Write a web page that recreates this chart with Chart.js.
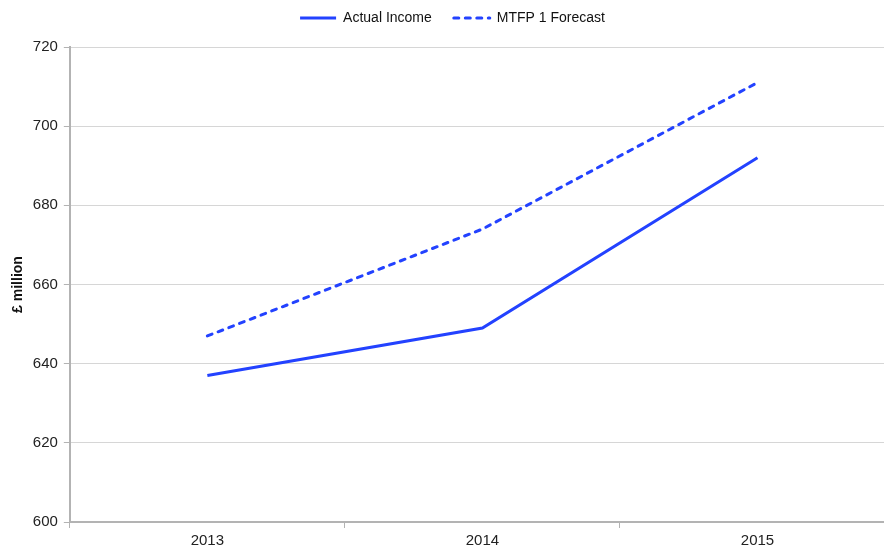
<!DOCTYPE html>
<html>
<head>
<meta charset="utf-8">
<script src="https://cdn.jsdelivr.net/npm/chart.js@4.4.1/dist/chart.umd.min.js"></script>
<style>
  html, body { margin: 0; padding: 0; background: #fff; overflow: hidden; }
  #wrap { width: 897px; height: 555px; position: relative; }
</style>
</head>
<body>
<div id="wrap"><canvas id="incomeChart"></canvas></div>
<script>
// Income figures, £ million
const years = ['2013', '2014', '2015'];
const actualIncome = [637, 649, 692];
const mtfpForecast = [647, 674, 711];
const yTicks = [600, 620, 640, 660, 680, 700, 720];

const lineBlue = '#2342ff';
const axisGrey = '#b3b3b3';
const gridGrey = '#d6d6d6';
const fontFamily = '"Liberation Sans", Arial, sans-serif';

// extra space between the legend and the plot
const legendGap = {
    id: 'legendGap',
    beforeInit(chart) {
        const fit = chart.legend.fit;
        chart.legend.fit = function () {
            fit.call(this);
            this.height += 12;
        };
    }
};

const ctx = document.getElementById('incomeChart').getContext('2d');
new Chart(ctx, {
    type: 'line',
    data: {
        labels: years,
        datasets: [
            {
                label: 'Actual Income',
                data: actualIncome,
                borderColor: lineBlue,
                backgroundColor: lineBlue,
                borderWidth: 3,
                pointRadius: 0,
                fill: false,
                tension: 0
            },
            {
                label: 'MTFP 1 Forecast',
                data: mtfpForecast,
                borderColor: lineBlue,
                backgroundColor: lineBlue,
                borderWidth: 3,
                borderDash: [5, 6.5],
                borderCapStyle: 'round',
                pointRadius: 0,
                fill: false,
                tension: 0
            }
        ]
    },
    plugins: [legendGap],
    options: {
        responsive: true,
        maintainAspectRatio: false,
        animation: false,
        layout: { padding: { top: -11, left: 10, right: 2, bottom: 1 } },
        plugins: {
            tooltip: { enabled: false },
            legend: {
                position: 'top',
                labels: {
                    usePointStyle: true,
                    pointStyle: 'line',
                    pointStyleWidth: 36,
                    padding: 22,
                    color: '#111',
                    font: { family: fontFamily, size: 14 },
                    // keep each dataset's dash pattern in its legend sample
                    generateLabels: chart => chart.data.datasets.map((ds, i) => ({
                        text: ds.label,
                        datasetIndex: i,
                        strokeStyle: ds.borderColor,
                        fillStyle: ds.borderColor,
                        lineWidth: ds.borderWidth,
                        lineDash: ds.borderDash || [],
                        lineCap: ds.borderCapStyle || 'butt',
                        pointStyle: 'line',
                        fontColor: '#111',
                        hidden: !chart.isDatasetVisible(i)
                    }))
                }
            }
        },
        scales: {
            x: {
                offset: true,
                grid: {
                    offset: true,
                    drawOnChartArea: false,
                    color: axisGrey,
                    tickLength: 6
                },
                border: { color: axisGrey, width: 2 },
                ticks: {
                    color: '#222',
                    padding: 4,
                    font: { family: fontFamily, size: 15 }
                }
            },
            y: {
                min: 600,
                max: 720,
                afterBuildTicks: axis => { axis.ticks = yTicks.map(v => ({ value: v })); },
                grid: { color: gridGrey, tickColor: axisGrey, tickLength: 6 },
                border: { color: axisGrey, width: 2 },
                ticks: {
                    color: '#222',
                    padding: 6,
                    font: { family: fontFamily, size: 15 }
                },
                title: {
                    display: true,
                    text: '£ million',
                    color: '#111',
                    padding: { top: 0, bottom: 0 },
                    font: { family: fontFamily, size: 14, weight: 'bold' }
                }
            }
        }
    }
});
</script>
</body>
</html>
